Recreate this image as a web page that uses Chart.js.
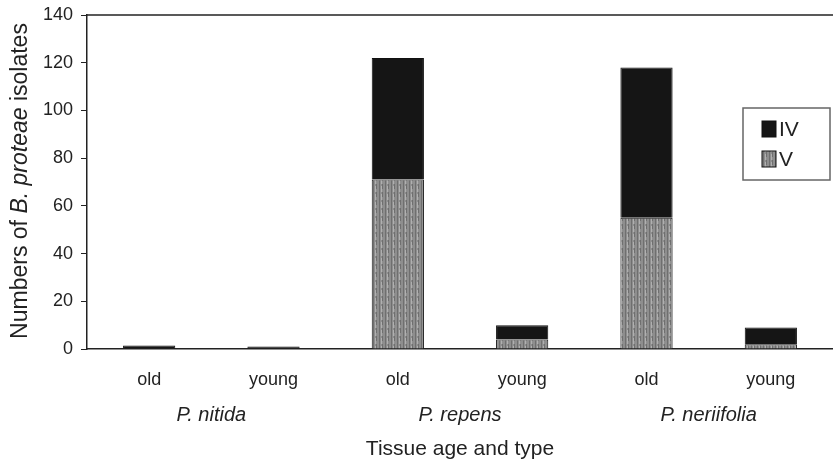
<!DOCTYPE html>
<html><head><meta charset="utf-8">
<script src="https://cdn.jsdelivr.net/npm/chart.js@4"></script>
<style>html,body{margin:0;background:#fff;overflow:hidden}#wrap{width:833px;height:464px}</style>
</head><body><div id="wrap"><canvas id="c"></canvas></div>
<script>
const ages = ['old','young','old','young','old','young'];
const species = ['P. nitida','P. repens','P. neriifolia'];
const valuesV = [0,0,71,4,55,2];
const valuesIV = [1.5,1,51,6,63,7];
const yTicks = [0,20,40,60,80,100,120,140];

const FONT = "'Liberation Sans', Arial, sans-serif";

// grey streaky fill like the scanned hatch
function streaks(){
  const p = document.createElement('canvas'); p.width = 6; p.height = 8;
  const g = p.getContext('2d');
  g.fillStyle = '#8e8e8e'; g.fillRect(0,0,6,8);
  g.fillStyle = '#6f6f6f'; g.fillRect(1,0,1,8); g.fillRect(4,0,1,5);
  g.fillStyle = '#b0b0b0'; g.fillRect(3,2,1,6);
  return g.createPattern(p,'repeat');
}
const greyFill = streaks();

const extras = {
  id:'extras',
  afterDraw(chart){
    const {ctx, chartArea:a, scales:{x}} = chart;
    ctx.save();
    // top frame line
    ctx.strokeStyle = '#222'; ctx.lineWidth = 1.5;
    ctx.beginPath(); ctx.moveTo(a.left, a.top); ctx.lineTo(chart.width, a.top); ctx.stroke();

    // species labels
    ctx.fillStyle = '#222';
    ctx.font = 'italic 20px ' + FONT;
    ctx.textAlign = 'center'; ctx.textBaseline = 'middle';
    species.forEach((s,i)=>{
      const cx = (x.getPixelForValue(i*2) + x.getPixelForValue(i*2+1)) / 2;
      ctx.fillText(s, cx, 415);
    });

    // y title with italic species name
    const parts = [['Numbers of ', ''], ['B. proteae', 'italic '], [' isolates', '']];
    ctx.translate(21, 181); ctx.rotate(-Math.PI/2);
    let total = 0;
    parts.forEach(p=>{ ctx.font = p[1] + '23px ' + FONT; total += ctx.measureText(p[0]).width; });
    let px = -total/2;
    ctx.textAlign = 'left';
    parts.forEach(p=>{ ctx.font = p[1] + '23px ' + FONT; ctx.fillText(p[0], px, 0); px += ctx.measureText(p[0]).width; });
    ctx.setTransform(1,0,0,1,0,0);
    ctx.scale(chart.currentDevicePixelRatio, chart.currentDevicePixelRatio);

    // legend box
    ctx.strokeStyle = '#666'; ctx.lineWidth = 1.5;
    ctx.strokeRect(743, 108, 87, 72);
    const items = [chart.data.datasets[1], chart.data.datasets[0]];
    ctx.font = '21px ' + FONT; ctx.textAlign = 'left';
    items.forEach((d,i)=>{
      const y = 129 + i*30;
      ctx.fillStyle = d.backgroundColor;
      ctx.fillRect(762, y-8, 14, 16);
      ctx.strokeStyle = '#111'; ctx.lineWidth = 1; ctx.strokeRect(762, y-8, 14, 16);
      ctx.fillStyle = '#222';
      ctx.fillText(d.label, 779, y+1);
    });
    ctx.restore();
  }
};

new Chart(document.getElementById('c'), {
  type:'bar',
  data:{
    labels: ages,
    datasets:[
      {label:'V', data:valuesV, backgroundColor:greyFill, borderColor:'#111', borderWidth:1},
      {label:'IV', data:valuesIV, backgroundColor:'#151515', borderColor:'#111', borderWidth:1}
    ]
  },
  options:{
    responsive:true, maintainAspectRatio:false, animation:false,
    layout:{padding:{top:15, right:0, left:0, bottom:0}},
    datasets:{bar:{categoryPercentage:1, barPercentage:0.42}},
    plugins:{legend:{display:false}, tooltip:{enabled:false}},
    scales:{
      x:{
        stacked:true,
        grid:{display:false},
        border:{color:'#222', width:1.5},
        ticks:{color:'#222', font:{family:FONT, size:18}, padding:12},
        title:{display:true, text:'Tissue age and type', color:'#222', font:{family:FONT, size:21}, padding:{bottom:2}},
        afterFit(s){ s.height = 115; s.paddingLeft = 0; s.paddingRight = 0; }
      },
      y:{
        stacked:true, min:0, max:140,
        afterBuildTicks(s){ s.ticks = yTicks.map(v=>({value:v})); },
        grid:{drawOnChartArea:false, tickLength:6, color:'#222'},
        border:{color:'#222', width:1.5},
        ticks:{color:'#222', font:{family:FONT, size:18}, padding:8},
        afterFit(s){ s.width = 87; s.paddingTop = 0; s.paddingBottom = 0; }
      }
    }
  },
  plugins:[extras]
});
</script>
</body></html>
